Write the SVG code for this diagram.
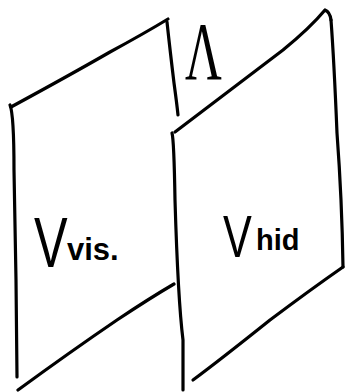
<svg xmlns="http://www.w3.org/2000/svg" width="348" height="392" viewBox="0 0 348 392">
<style>
.edge{fill:none;stroke:#000;stroke-width:3.2;stroke-linecap:round;stroke-linejoin:round}
.lbl{font-family:"Liberation Sans","DejaVu Sans",sans-serif;fill:#000}
</style>
<rect width="348" height="392" fill="#fff"/>
<g id="plane-vis">
<path class="edge" d="M10,105 Q14,115 14,170 L16,280 L17,377"/>
<path class="edge" d="M11,107 Q70,75 110,52 Q145,33 168,19"/>
<path class="edge" d="M167,22 Q170,50 174,83 Q177,105 178,115"/>
<path class="edge" d="M18,390 Q70,352 117,320 Q150,298 174,284"/>
<text class="lbl" transform="translate(34,267) scale(0.72,1)" font-size="70">V</text>
<text class="lbl" x="67" y="260" font-size="31" font-weight="bold">vis.</text>
</g>
<g id="plane-hid">
<path class="edge" d="M172,133 Q174,140 175,200 Q178,300 183,340 L183,390"/>
<path class="edge" d="M175,132 Q230,90 283,50 Q310,28 325,10 Q330,12 331,20"/>
<path class="edge" d="M331,20 Q334,60 337,133 Q342,200 343,267"/>
<path class="edge" d="M343,267 Q310,290 270,320 Q220,360 193,380"/>
<text class="lbl" transform="translate(223,257) scale(0.72,1)" font-size="60">V</text>
<text class="lbl" x="256" y="250" font-size="29" font-weight="bold">hid</text>
</g>
<g id="lambda">
<text transform="translate(185,79) scale(0.62,1)" font-family="Liberation Serif,serif" font-size="82" fill="#000">Λ</text>
</g>
</svg>
